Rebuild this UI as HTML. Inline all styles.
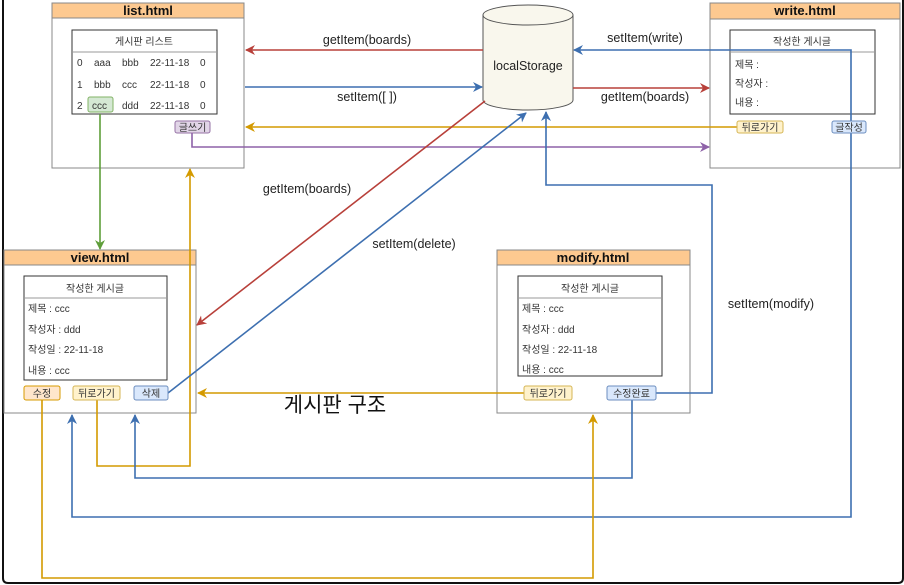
<!DOCTYPE html>
<html><head><meta charset="utf-8"><style>
html,body{margin:0;padding:0;background:#fff;}
svg{display:block;}
text{font-family:"Liberation Sans","Noto Sans CJK KR",sans-serif;}
.t{font-size:10px;fill:#333;}
.h{font-size:13px;font-weight:bold;fill:#111;text-anchor:middle;}
.l{font-size:12.5px;fill:#222;}
</style></head><body>
<svg width="904" height="585" viewBox="0 0 904 585" xmlns="http://www.w3.org/2000/svg">
<defs>
<marker id="ar" viewBox="0 0 10 10" refX="9" refY="5" markerWidth="9" markerHeight="9" orient="auto-start-reverse" markerUnits="userSpaceOnUse"><path d="M0,0 L10,5 L0,10 L3,5 z" fill="context-stroke"/></marker>
<marker id="r" viewBox="0 0 10 10" refX="9" refY="5" markerWidth="10" markerHeight="10" orient="auto" markerUnits="userSpaceOnUse"><path d="M0,0 L10,5 L0,10 L3,5 z" fill="#b8403a"/></marker>
<marker id="b" viewBox="0 0 10 10" refX="9" refY="5" markerWidth="10" markerHeight="10" orient="auto" markerUnits="userSpaceOnUse"><path d="M0,0 L10,5 L0,10 L3,5 z" fill="#3d6fb0"/></marker>
<marker id="y" viewBox="0 0 10 10" refX="9" refY="5" markerWidth="10" markerHeight="10" orient="auto" markerUnits="userSpaceOnUse"><path d="M0,0 L10,5 L0,10 L3,5 z" fill="#d49a00"/></marker>
<marker id="p" viewBox="0 0 10 10" refX="9" refY="5" markerWidth="10" markerHeight="10" orient="auto" markerUnits="userSpaceOnUse"><path d="M0,0 L10,5 L0,10 L3,5 z" fill="#8e62a8"/></marker>
<marker id="g" viewBox="0 0 10 10" refX="9" refY="5" markerWidth="10" markerHeight="10" orient="auto" markerUnits="userSpaceOnUse"><path d="M0,0 L10,5 L0,10 L3,5 z" fill="#5f9e3a"/></marker>
</defs>
<!-- outer frame -->
<path d="M3,0 L3,578 Q3,583 8,583 L898,583 Q903,583 903,578 L903,0" fill="none" stroke="#111" stroke-width="2"/>

<!-- list.html -->
<rect x="52" y="3" width="192" height="165" fill="#fff" stroke="#888"/>
<rect x="52" y="3" width="192" height="15" fill="#fdc990" stroke="#888"/>
<text x="148" y="15" class="h">list.html</text>
<rect x="72" y="30" width="145" height="84" fill="#fff" stroke="#333"/>
<line x1="72" y1="52" x2="217" y2="52" stroke="#999"/>
<text x="144" y="45" class="t" text-anchor="middle">게시판 리스트</text>
<rect x="88" y="97" width="25" height="15" rx="2" fill="#d5e8d4" stroke="#82b366"/>
<g class="t">
<text x="77" y="66">0</text><text x="94" y="66">aaa</text><text x="122" y="66">bbb</text><text x="150" y="66">22-11-18</text><text x="200" y="66">0</text>
<text x="77" y="88">1</text><text x="94" y="88">bbb</text><text x="122" y="88">ccc</text><text x="150" y="88">22-11-18</text><text x="200" y="88">0</text>
<text x="77" y="109">2</text><text x="92" y="109">ccc</text><text x="122" y="109">ddd</text><text x="150" y="109">22-11-18</text><text x="200" y="109">0</text>
</g>
<rect x="175" y="121" width="35" height="12" rx="2" fill="#e1d5e7" stroke="#9673a6"/>
<text x="192.5" y="131" class="t" text-anchor="middle">글쓰기</text>

<!-- write.html -->
<rect x="710" y="3" width="190" height="165" fill="#fff" stroke="#888"/>
<rect x="710" y="3" width="190" height="16" fill="#fdc990" stroke="#888"/>
<text x="805" y="15" class="h">write.html</text>
<rect x="730" y="30" width="145" height="84" fill="#fff" stroke="#333"/>
<line x1="730" y1="52" x2="875" y2="52" stroke="#999"/>
<text x="802" y="45" class="t" text-anchor="middle">작성한 게시글</text>
<text x="735" y="68" class="t">제목 :</text>
<text x="735" y="87" class="t">작성자 :</text>
<text x="735" y="106" class="t">내용 :</text>

<!-- view.html -->
<rect x="4" y="250" width="192" height="163" fill="#fff" stroke="#888"/>
<rect x="4" y="250" width="192" height="15" fill="#fdc990" stroke="#888"/>
<text x="100" y="262" class="h">view.html</text>
<rect x="24" y="276" width="143" height="104" fill="#fff" stroke="#333"/>
<line x1="24" y1="298" x2="167" y2="298" stroke="#999"/>
<text x="95" y="292" class="t" text-anchor="middle">작성한 게시글</text>
<text x="28" y="312" class="t">제목 : ccc</text>
<text x="28" y="333" class="t">작성자 : ddd</text>
<text x="28" y="353" class="t">작성일 : 22-11-18</text>
<text x="28" y="374" class="t">내용 : ccc</text>

<!-- modify.html -->
<rect x="497" y="250" width="193" height="163" fill="#fff" stroke="#888"/>
<rect x="497" y="250" width="193" height="15" fill="#fdc990" stroke="#888"/>
<text x="593" y="262" class="h">modify.html</text>
<rect x="518" y="276" width="144" height="100" fill="#fff" stroke="#333"/>
<line x1="518" y1="298" x2="662" y2="298" stroke="#999"/>
<text x="590" y="292" class="t" text-anchor="middle">작성한 게시글</text>
<text x="522" y="312" class="t">제목 : ccc</text>
<text x="522" y="333" class="t">작성자 : ddd</text>
<text x="522" y="353" class="t">작성일 : 22-11-18</text>
<text x="522" y="373" class="t">내용 : ccc</text>

<!-- cylinder -->
<path d="M483,15 L483,100 A45,10 0 0 0 573,100 L573,15" fill="#f9f7ed" stroke="#555"/>
<ellipse cx="528" cy="15" rx="45" ry="10" fill="#f9f7ed" stroke="#555"/>
<text x="528" y="70" class="l" text-anchor="middle">localStorage</text>

<!-- connectors -->
<g fill="none" stroke-width="1.6">
<line x1="483" y1="50" x2="246" y2="50" stroke="#b8403a" marker-end="url(#r)"/>
<line x1="245" y1="87" x2="482" y2="87" stroke="#3d6fb0" marker-end="url(#b)"/>
<polyline points="851,121 851,50 574,50" stroke="#3d6fb0" marker-end="url(#b)"/>
<polyline points="851,133 851,517 72,517 72,415" stroke="#3d6fb0" marker-end="url(#b)"/>
<line x1="573" y1="88" x2="709" y2="88" stroke="#b8403a" marker-end="url(#r)"/>
<line x1="737" y1="127" x2="246" y2="127" stroke="#d49a00" marker-end="url(#y)"/>
<polyline points="192,133 192,147 709,147" stroke="#8e62a8" marker-end="url(#p)"/>
<line x1="100" y1="114" x2="100" y2="249" stroke="#5f9e3a" marker-end="url(#g)"/>
<polyline points="97,400 97,466 190,466 190,169" stroke="#d49a00" marker-end="url(#y)"/>
<line x1="485" y1="101" x2="197" y2="325" stroke="#b8403a" marker-end="url(#r)"/>
<line x1="168" y1="393" x2="526" y2="113" stroke="#3d6fb0" marker-end="url(#b)"/>
<polyline points="656,393 712,393 712,185 546,185 546,112" stroke="#3d6fb0" marker-end="url(#b)"/>
<line x1="524" y1="393" x2="198" y2="393" stroke="#d49a00" marker-end="url(#y)"/>
<polyline points="632,400 632,478 135,478 135,415" stroke="#3d6fb0" marker-end="url(#b)"/>
<polyline points="42,400 42,578 593,578 593,415" stroke="#d49a00" marker-end="url(#y)"/>
</g>

<!-- buttons -->
<rect x="737" y="121" width="46" height="12" rx="2" fill="#fff2cc" stroke="#d6b656"/>
<text x="760" y="131" class="t" text-anchor="middle">뒤로가기</text>
<rect x="832" y="121" width="34" height="12" rx="2" fill="#dae8fc" stroke="#6c8ebf"/>
<text x="849" y="131" class="t" text-anchor="middle">글작성</text>
<rect x="24" y="386" width="36" height="14" rx="2" fill="#ffe6cc" stroke="#d79b00"/>
<text x="42" y="397" class="t" text-anchor="middle">수정</text>
<rect x="73" y="386" width="47" height="14" rx="2" fill="#fff2cc" stroke="#d6b656"/>
<text x="96.5" y="397" class="t" text-anchor="middle">뒤로가기</text>
<rect x="134" y="386" width="34" height="14" rx="2" fill="#dae8fc" stroke="#6c8ebf"/>
<text x="151" y="397" class="t" text-anchor="middle">삭제</text>
<rect x="524" y="386" width="48" height="14" rx="2" fill="#fff2cc" stroke="#d6b656"/>
<text x="548" y="397" class="t" text-anchor="middle">뒤로가기</text>
<rect x="607" y="386" width="49" height="14" rx="2" fill="#dae8fc" stroke="#6c8ebf"/>
<text x="631.5" y="397" class="t" text-anchor="middle">수정완료</text>

<!-- labels -->
<text x="367" y="44" class="l" text-anchor="middle">getItem(boards)</text>
<text x="367" y="101" class="l" text-anchor="middle">setItem([ ])</text>
<text x="645" y="42" class="l" text-anchor="middle">setItem(write)</text>
<text x="645" y="101" class="l" text-anchor="middle">getItem(boards)</text>
<text x="307" y="193" class="l" text-anchor="middle">getItem(boards)</text>
<text x="414" y="248" class="l" text-anchor="middle">setItem(delete)</text>
<text x="771" y="308" class="l" text-anchor="middle">setItem(modify)</text>
<text x="335" y="412" font-size="21" fill="#111" text-anchor="middle">게시판 구조</text>
</svg>
</body></html>
